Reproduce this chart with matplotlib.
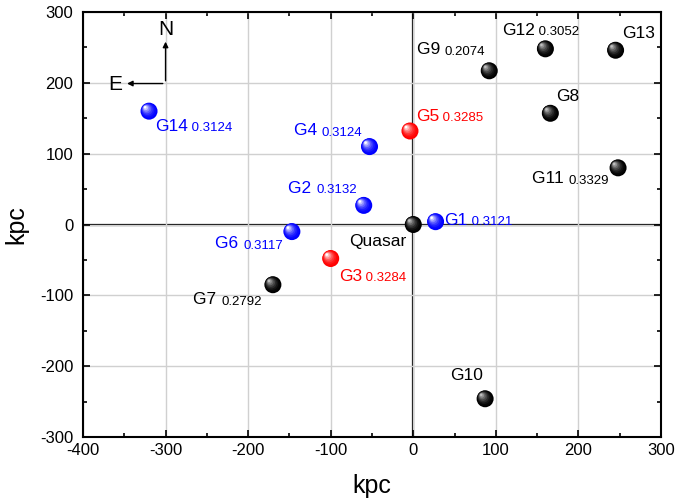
import matplotlib
matplotlib.use("Agg")
import matplotlib.pyplot as plt
from matplotlib.transforms import ScaledTranslation
from matplotlib.colors import to_rgb
import numpy as np

plt.rcParams['font.family'] = ['Liberation Sans', 'DejaVu Sans']
plt.rcParams['axes.unicode_minus'] = False

# galaxy positions (kpc), redshifts and colours
names = ['Quasar', 'G1', 'G2', 'G3', 'G4', 'G5', 'G6', 'G7', 'G8', 'G9',
         'G10', 'G11', 'G12', 'G13', 'G14']
x_kpc = [0, 27, -60, -100, -53, -4, -147, -170, 166, 92, 87, 248, 160, 245, -320]
y_kpc = [0, 4, 27, -48, 110, 132, -10, -85, 157, 217, -246, 80, 248, 246, 160]
redshift = ['', '0.3121', '0.3132', '0.3284', '0.3124', '0.3285', '0.3117', '0.2792',
            '', '0.2074', '', '0.3329', '0.3052', '', '0.3124']
colors = ['black', 'blue', 'blue', 'red', 'blue', 'red', 'blue', 'black',
          'black', 'black', 'black', 'black', 'black', 'black', 'blue']

# label offsets in pixels (dx, dy) and alignment
label_pos = {
    'Quasar': (-7, -17, 'right'), 'G1': (9, 1, 'left'), 'G2': (-7, 15, 'right'),
    'G3': (8, -18, 'left'), 'G4': (-7, 14, 'right'), 'G5': (6, 15, 'left'),
    'G6': (-9, -14, 'right'), 'G7': (-11, -17, 'right'), 'G8': (6, 17, 'left'),
    'G9': (-4, 19, 'right'), 'G10': (-2, 23, 'right'), 'G11': (-9, -13, 'right'),
    'G12': (-43, 18, 'left'), 'G13': (7, 17, 'left'), 'G14': (6, -15, 'left'),
}

fig = plt.figure(figsize=(6.79, 5.04), dpi=100)
ax = fig.add_axes([0.1222, 0.1329, 0.8513, 0.8433])

ax.set_xlim(-400, 300)
ax.set_ylim(-300, 300)
ax.set_xticks(np.arange(-400, 301, 100))
ax.set_yticks(np.arange(-300, 301, 100))
ax.set_xticks(np.arange(-350, 300, 50), minor=True)
ax.set_yticks(np.arange(-250, 300, 50), minor=True)
ax.tick_params(which='both', direction='in', top=True, right=True, width=1.2)
ax.tick_params(which='major', length=5, labelsize=12)
ax.tick_params(which='minor', length=3)
ax.tick_params(axis='x', pad=4)
ax.tick_params(axis='y', pad=7)
for s in ax.spines.values():
    s.set_linewidth(1.5)

ax.grid(True, color='#d0d0d0', linewidth=1.0, zorder=0)
ax.axhline(0, color='black', linewidth=1.6, zorder=1)
ax.axvline(0, color='black', linewidth=1.6, zorder=1)

ax.set_xlabel('kpc', fontsize=18, labelpad=12)
ax.set_ylabel('kpc', fontsize=18, labelpad=8)

# shaded spheres: stacked circles shifted toward the upper-left highlight
n_layers = 8
for i in range(n_layers):
    f = i / (n_layers - 1)
    size = 150 * (1 - 0.85 * f) ** 2
    shift = 2.8 * f
    tr = ax.transData + ScaledTranslation(-shift / 72, shift / 72, fig.dpi_scale_trans)
    cols = []
    for c in colors:
        base = np.array(to_rgb(c))
        if c == 'black':
            cols.append(base + (0.75 - base) * f ** 1.8)
        else:
            cols.append(base + (1 - base) * f ** 1.8)
    ax.scatter(x_kpc, y_kpc, s=size, c=cols, transform=tr, zorder=3 + i * 0.01,
               linewidths=0, clip_on=False)

for n, xv, yv, z, c in zip(names, x_kpc, y_kpc, redshift, colors):
    dx, dy, ha = label_pos[n]
    if ha == 'right' and z:
        zt = ax.annotate(z, (xv, yv), xytext=(dx, dy), textcoords='offset pixels',
                         ha='right', va='center', fontsize=9.5, color=c)
        ax.annotate(n + ' ', xy=(0, 0.05), xycoords=zt, ha='right', va='bottom',
                    fontsize=12.5, color=c)
    else:
        nt = ax.annotate(n, (xv, yv), xytext=(dx, dy), textcoords='offset pixels',
                         ha=ha, va='center', fontsize=12.5, color=c)
        if z:
            ax.annotate(' ' + z, xy=(1, 0.0), xycoords=nt, ha='left', va='bottom',
                        fontsize=9.5, color=c)

# compass
ax.annotate('', xy=(-300, 262), xytext=(-300, 199),
            arrowprops=dict(arrowstyle='-|>', color='black', lw=1, mutation_scale=8))
ax.annotate('', xy=(-350, 199), xytext=(-300, 199),
            arrowprops=dict(arrowstyle='-|>', color='black', lw=1, mutation_scale=8))
ax.text(-300, 262, 'N', fontsize=15, ha='center', va='bottom')
ax.text(-352, 198, 'E', fontsize=15, ha='right', va='center')

fig.savefig('out.png', dpi=100)
